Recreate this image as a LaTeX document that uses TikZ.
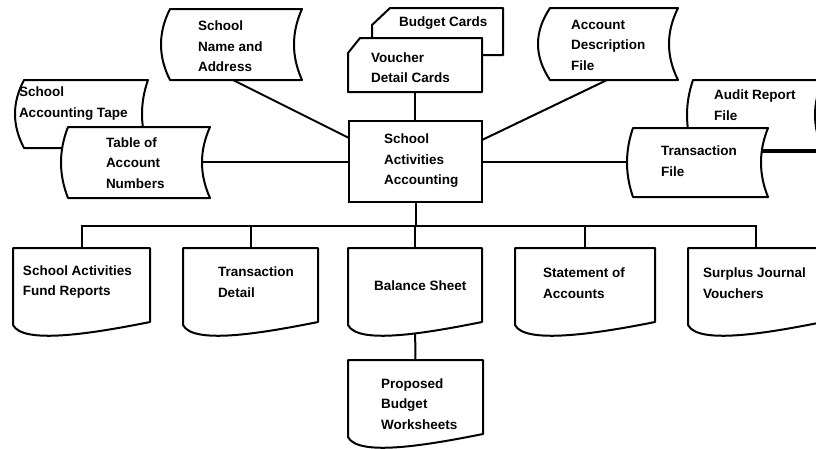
\documentclass[tikz,border=0pt]{standalone}
\usepackage{fontspec}
\setmainfont{Liberation Sans}
\usetikzlibrary{calc}
\tikzset{
  body/.style={inner sep=0pt, outer sep=0pt},
  procbox/.style={draw, fill=white, inner sep=0pt, outer sep=0pt},
  txt/.style={inner sep=0pt, anchor=west, align=left, font=\fontsize{13.5}{20.5}\selectfont\bfseries},
  conn/.style={line width=2pt},
  outl/.style={line width=2pt, fill=white, line join=round},
}
% stored-data outline: node, left bulge, right concavity
\newcommand\sdoutline[3]{%
  \draw[outl] let \p1=(#1.north west), \p2=(#1.south east), \n1={(\y1-\y2)/3} in
    (\x1,\y1) -- (\x2,\y1)
    .. controls ({\x2-4/3*#3},{\y1-\n1}) and ({\x2-4/3*#3},{\y2+\n1}) .. (\x2,\y2)
    -- (\x1,\y2)
    .. controls ({\x1-4/3*#2},{\y2+\n1}) and ({\x1-4/3*#2},{\y1-\n1}) .. cycle;}
% document outline with wavy bottom
\newcommand\docoutline[1]{%
  \draw[outl] let \p1=(#1.north west), \p2=(#1.south east) in
    (\x1,\y1) -- (\x2,\y1) -- (\x2,{\y2+3})
    .. controls ({\x2-55},{\y2-8}) and ({\x1+10},{\y2-20}) .. (\x1,\y2) -- cycle;}
% punched card outline with cut corner
\newcommand\cardoutline[3]{%
  \draw[outl] let \p1=(#1.north west), \p2=(#1.south east) in
    ({\x1+#2},\y1) -- (\x2,\y1) -- (\x2,\y2) -- (\x1,\y2) -- (\x1,{\y1-#3}) -- cycle;}
\begin{document}
\begin{tikzpicture}[x=1pt,y=-1pt,line width=2pt]
\useasboundingbox (0,0) rectangle (816,448);
% ---- shape bodies (invisible, for anchors) ----
\node[body, minimum width=132pt, minimum height=71pt] (sna) at (236,44.5) {};
\node[body, minimum width=124pt, minimum height=68pt] (tape) at (86,114) {};
\node[body, minimum width=142pt, minimum height=71pt] (tab) at (139,162.5) {};
\node[body, minimum width=131pt, minimum height=47pt] (bud) at (437.5,31.5) {};
\node[body, minimum width=134pt, minimum height=54pt] (vou) at (415,65) {};
\node[body, minimum width=128pt, minimum height=72pt] (acd) at (614,44) {};
\node[body, minimum width=130pt, minimum height=70pt] (aud) at (758,115) {};
\node[body, minimum width=135pt, minimum height=69pt] (trf) at (700.5,162.5) {};
\node[body, minimum width=137pt, minimum height=77pt] (d1) at (81.5,286.5) {};
\node[body, minimum width=135pt, minimum height=77pt] (d2) at (250.5,286.5) {};
\node[body, minimum width=134pt, minimum height=77pt] (d3) at (415,286.5) {};
\node[body, minimum width=140pt, minimum height=77pt] (d4) at (585,286.5) {};
\node[body, minimum width=135pt, minimum height=77pt] (d5) at (755.5,286.5) {};
\node[body, minimum width=135pt, minimum height=77pt] (pbw) at (415.5,398.5) {};
\node[procbox, minimum width=133pt, minimum height=81pt] (sac) at (415.5,161.5) {};
% ---- connectors ----
\draw[conn] ([xshift=-3pt]sna.south) -- ([yshift=-17pt]sac.north west);
\draw[conn] ([xshift=-7pt]acd.south) -- ([yshift=-19pt]sac.north east);
\draw[conn] (vou.south) -- (vou.south |- sac.north);
\draw[conn] (sac.west) -- (sac.west -| tab.center);
\draw[conn] (sac.east) -- (sac.east -| trf.center);
\coordinate (offr) at (820,152);
\draw[conn] (offr -| trf.center) -- (offr);
\coordinate (bus) at ($(sac.south)+(0,24)$);
\draw[conn] (sac.south) -- (bus);
\foreach \d in {d1,d2,d3,d4,d5} { \draw[conn] (bus) -| (\d.north); }
\draw[conn] (d3.south) -- (pbw.north);
% ---- outlines ----
\sdoutline{tape}{9}{6}
\sdoutline{tab}{7}{8}
\sdoutline{sna}{9}{8}
\cardoutline{bud}{18}{17}
\cardoutline{vou}{12}{15}
\sdoutline{acd}{12}{9}
\sdoutline{aud}{6}{8}
\sdoutline{trf}{6}{7}
\docoutline{d1}
\docoutline{d2}
\docoutline{d3}
\docoutline{d4}
\docoutline{d5}
\docoutline{pbw}
% ---- texts ----
\node[txt] (snat) at (197,46.5) {School\\Name and\\Address};
\node[txt] (tapet) at (18,103.5) {School\\Accounting Tape};
\node[txt] (tabt) at (105,163) {Table of\\Account\\Numbers};
\node[txt] (budt) at (398,23) {Budget Cards};
\node[txt] (vout) at (370,67.5) {Voucher\\Detail Cards};
\node[txt] (acdt) at (570,45) {Account\\Description\\File};
\node[txt] (audt) at (713,105) {Audit Report\\File};
\node[txt] (trft) at (660,161) {Transaction\\File};
\node[txt] (sact) at (383,161) {School\\Activities\\Accounting};
\node[txt] (d1t) at (22,282) {School Activities\\Fund Reports};
\node[txt] (d2t) at (217,282) {Transaction\\Detail};
\node[txt] (d3t) at (373,286) {Balance Sheet};
\node[txt] (d4t) at (542,283) {Statement of\\Accounts};
\node[txt] (d5t) at (702,283) {Surplus Journal\\Vouchers};
\node[txt] (pbwt) at (380,404) {Proposed\\Budget\\Worksheets};
\end{tikzpicture}
\end{document}
